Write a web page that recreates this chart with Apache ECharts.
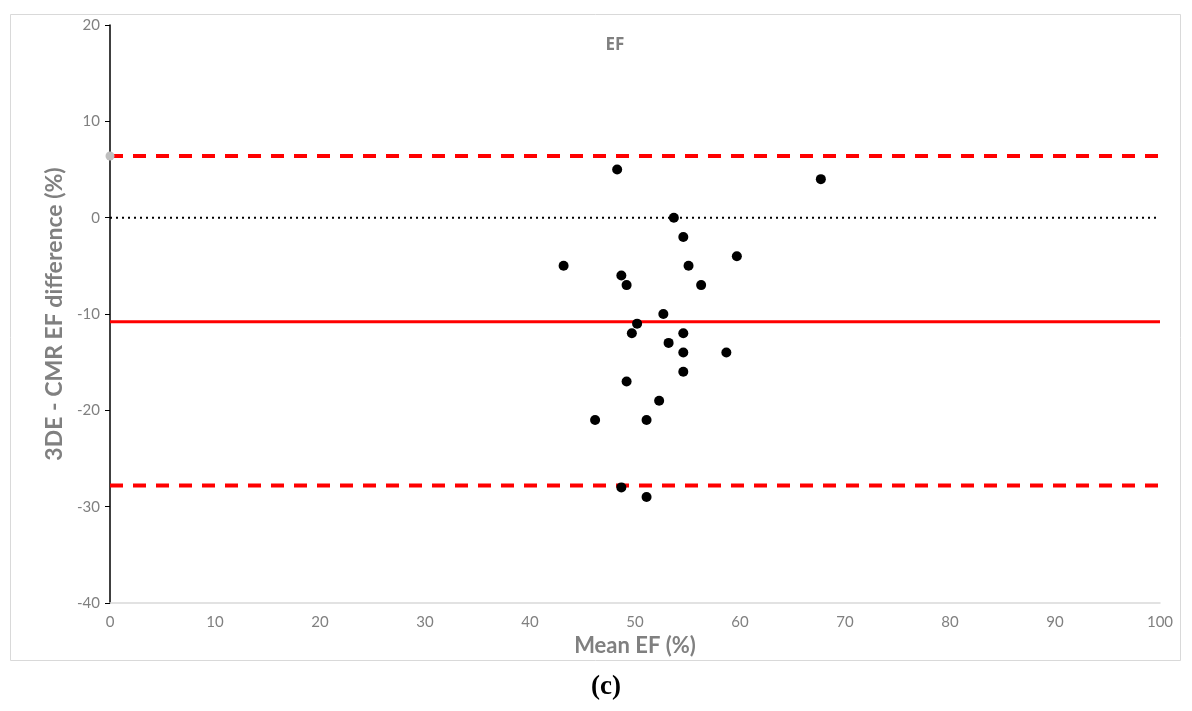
<!DOCTYPE html>
<html lang="en">
<head>
    <meta charset="utf-8"/>
    <title>EF Bland-Altman</title>
    <script src="https://cdn.jsdelivr.net/npm/echarts@6/dist/echarts.min.js"></script>
</head>
<body style="margin:0;">
<div id="chart" style="width:1192px;height:711px;"></div>
<script type="text/javascript">
    // mean EF (%) and 3DE - CMR difference (%)
    const meanEF = [
        48.3, 67.7, 53.7, 54.6, 43.2, 55.1, 59.7, 48.7, 49.2, 56.3,
        52.7, 50.2, 49.7, 54.6, 53.2, 54.6, 58.7, 54.6, 49.2, 52.3,
        46.2, 51.1, 48.7, 51.1
    ];
    const diffEF = [
        5, 4, 0, -2, -5, -5, -4, -6, -7, -7,
        -10, -11, -12, -12, -13, -14, -14, -16, -17, -19,
        -21, -21, -28, -29
    ];
    const bias = -10.8;
    const upperLoA = 6.4;
    const lowerLoA = -27.8;
    const xRange = [0, 100];

    const points = meanEF.map(function (x, i) {
        return [x, diffEF[i]];
    });
    function hline(v) {
        return [[xRange[0], v], [xRange[1], v]];
    }

    const chart = echarts.init(document.getElementById('chart'));
    const grey = '#808080';
    chart.setOption({
        animation: false,
        backgroundColor: '#fff',
        title: [{
            text: 'EF',
            left: 610,
            top: 32,
            textAlign: 'center',
            textStyle: {color: grey, fontSize: 17, fontWeight: 700, fontFamily: 'Open Sans'}
        }, {
            text: '(c)',
            left: 601,
            top: 669,
            textAlign: 'center',
            textStyle: {color: '#000', fontSize: 27, fontWeight: 'bold', fontFamily: 'Liberation Serif'}
        }],
        graphic: [{
            type: 'rect',
            shape: {x: 10.5, y: 14.5, width: 1170, height: 646},
            style: {fill: 'none', stroke: '#d9d9d9', lineWidth: 1},
            silent: true
        }],
        grid: {left: 110, right: 32, top: 25, bottom: 108},
        xAxis: {
            type: 'value',
            min: 0,
            max: 100,
            interval: 10,
            name: 'Mean EF (%)',
            nameLocation: 'middle',
            nameGap: 30,
            nameTextStyle: {color: grey, fontSize: 22, fontWeight: 'bold', fontFamily: 'Lato'},
            axisLine: {onZero: false, lineStyle: {color: '#d9d9d9', width: 1.5}},
            axisTick: {show: false},
            axisLabel: {color: grey, fontSize: 15, margin: 12, fontFamily: 'Lato'},
            splitLine: {show: false}
        },
        yAxis: {
            type: 'value',
            min: -40,
            max: 20,
            interval: 10,
            name: '3DE - CMR EF difference (%)',
            nameLocation: 'middle',
            nameGap: 32,
            nameTextStyle: {color: grey, fontSize: 23, fontWeight: 'bold', fontFamily: 'Lato'},
            axisLine: {show: true, lineStyle: {color: '#000', width: 1.5}},
            axisTick: {show: true, length: 5, lineStyle: {color: '#000'}},
            axisLabel: {color: grey, fontSize: 15, margin: 10, fontFamily: 'Lato'},
            splitLine: {show: false}
        },
        series: [
            {
                type: 'line',
                data: hline(0),
                symbol: 'none',
                lineStyle: {color: '#000', width: 2, type: [2, 4]},
                z: 1
            },
            {
                type: 'line',
                data: hline(bias),
                symbol: 'none',
                lineStyle: {color: '#ff0000', width: 3},
                z: 2
            },
            {
                type: 'line',
                data: hline(upperLoA),
                symbol: 'none',
                lineStyle: {color: '#ff0000', width: 4, type: [13, 10]},
                z: 2
            },
            {
                type: 'line',
                data: hline(lowerLoA),
                symbol: 'none',
                lineStyle: {color: '#ff0000', width: 4, type: [13, 10]},
                z: 2
            },
            {
                type: 'scatter',
                data: [[xRange[0], upperLoA]],
                symbolSize: 9,
                itemStyle: {color: '#bfbfbf', opacity: 1},
                z: 3
            },
            {
                type: 'scatter',
                data: points,
                symbolSize: 10,
                itemStyle: {color: '#000', opacity: 1},
                z: 4
            }
        ]
    });
</script>
</body>
</html>
